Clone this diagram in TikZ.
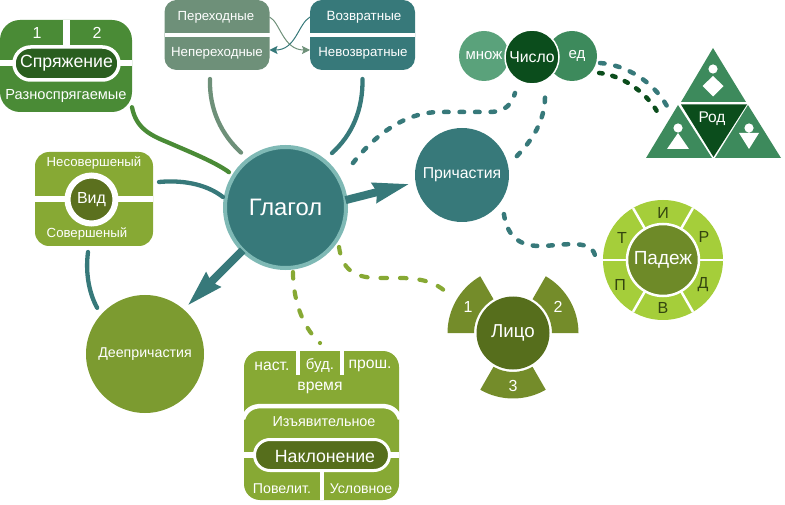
\documentclass[tikz,border=0pt]{standalone}
\usepackage{fontspec}
\setmainfont{Liberation Sans}
\usetikzlibrary{arrows.meta}
\definecolor{cSpr}{HTML}{4A8B36}
\definecolor{cSprD}{HTML}{2A5E1F}
\definecolor{cPer}{HTML}{6E9079}
\definecolor{cTeal}{HTML}{37797A}
\definecolor{cRing}{HTML}{7FB9B5}
\definecolor{cOlive}{HTML}{87A934}
\definecolor{cOliveD}{HTML}{5B701E}
\definecolor{cMno}{HTML}{5AA27B}
\definecolor{cGreen}{HTML}{3D8A5C}
\definecolor{cDark}{HTML}{0B4D1C}
\definecolor{cLime}{HTML}{A5CE3A}
\definecolor{cPadI}{HTML}{6E8A28}
\definecolor{cLit}{HTML}{748C2A}
\definecolor{cLitI}{HTML}{566E1C}
\definecolor{cInk}{HTML}{33450F}
\newcommand\fs[1]{\fontsize{#1}{#1}\selectfont}
\newcommand\ringsector[5]{\fill[#5] ([shift={(#3:#1pt)}]#4.center) arc[start angle=#3,end angle=#3+60,radius=#1pt] -- ([shift={(#3+60:#2pt)}]#4.center) arc[start angle=#3+60,end angle=#3,radius=#2pt] -- cycle;}
\tikzset{
  lab/.style={text=white,inner sep=0pt,outer sep=0pt},
  boxn/.style={rectangle,inner sep=0pt,outer sep=0pt},
  disc/.style={circle,inner sep=0pt,outer sep=0pt,text=white},
  sep/.style={draw=white},
  link/.style={line width=4.3pt,line cap=round},
  dots/.style={line width=4.5pt,line cap=round,dash pattern=on 4.5pt off 11pt},
  olivedots/.style={line width=4.2pt,line cap=round,dash pattern=on 6.5pt off 13pt},
  thin link/.style={line width=1pt,-{Stealth[length=8pt,width=8pt,inset=1.5pt]}},
  big arrow/.style={draw=cTeal,line width=8pt,-{Stealth[length=36pt 0,width=19pt 0,inset=2pt 0]}}
}
\begin{document}
\begin{tikzpicture}[x=1pt,y=-1pt]
\useasboundingbox (0,0) rectangle (785,505);
% Spryazhenie
\node[boxn,fill=cSpr,rounded corners=20pt,minimum width=132pt,minimum height=92pt] (sprbox) at (66,66) {};
\draw[sep,line width=6pt] (sprbox.west |- 0,63.5) -- (sprbox.east |- 0,63.5);
\draw[sep,line width=7pt] (66.5,20) -- (66.5,46);
\node[boxn,fill=cSprD,draw=white,line width=3.5pt,rounded corners=16.5pt,minimum width=105pt,minimum height=33pt,text=white,font=\fs{17.7}] (sprpill) at (66.5,63.5) {Спряжение};
\node[lab,font=\fs{16}] (spr1) at (37,33) {1};
\node[lab,font=\fs{16}] (spr2) at (97,33) {2};
\node[lab,font=\fs{14.6}] (sprr) at (66,96) {Разноспрягаемые};
% Perehodnye
\node[boxn,fill=cPer,rounded corners=12pt,minimum width=105pt,minimum height=70pt] (perbox) at (217,35) {};
\draw[sep,line width=4.5pt] (perbox.west) -- (perbox.east);
\node[lab,font=\fs{13.2}] (per1) at (216,17) {Переходные};
\node[lab,font=\fs{13.3}] (per2) at (217,53) {Непереходные};
\node[boxn,fill=cTeal,rounded corners=12pt,minimum width=105pt,minimum height=70pt] (vozbox) at (362.5,35) {};
\draw[sep,line width=4.5pt] (vozbox.west) -- (vozbox.east);
\node[lab,font=\fs{13.4}] (voz1) at (364,17) {Возвратные};
\node[lab,font=\fs{13.3}] (voz2) at (363,53) {Невозвратные};
% Vid
\node[boxn,fill=cOlive,rounded corners=14pt,minimum width=118pt,minimum height=94pt] (vidbox) at (94,199) {};
\draw[sep,line width=6.5pt] (vidbox.west |- 0,199) -- (vidbox.east |- 0,199);
\node[disc,fill=cOliveD,draw=white,line width=6pt,minimum size=48pt,font=\fs{16}] (vid) at (91.5,199.5) {Вид};
\node[lab,font=\fs{13.2}] (vid1) at (94,163) {Несовершеный};
\node[lab,font=\fs{13.2}] (vid2) at (87,234) {Совершеный};
% main circles
\node[disc,fill=cTeal,draw=cRing,line width=4pt,minimum size=121pt,font=\fs{23.8}] (glagol) at (285.5,207.5) {Глагол};
\node[disc,fill=cTeal,minimum size=94pt,font=\fs{15.8}] (prich) at (462,175) {Причастия};
\node[disc,fill=cOlive!92!black,minimum size=118pt,font=\fs{14.2}] (deep) at (145,354) {Деепричастия};
% Chislo
\node[disc,fill=cMno,minimum size=50pt,font=\fs{15}] (mnozh) at (484,56) {множ};
\node[disc,fill=cGreen,minimum size=50pt] (ed) at (572,56) {};
\node[lab,font=\fs{15}] (edt) at (577,56) {ед};
\node[disc,fill=cDark,draw=white,line width=1.5pt,minimum size=54pt,font=\fs{15.8}] (chislo) at (532,57) {Число};
% Rod
\fill[cGreen] (713,48) -- (746,102) -- (681,102) -- cycle;
\fill[cGreen] (678,105) -- (712,158) -- (646,158) -- cycle;
\fill[cGreen] (748,105) -- (781,158) -- (715,158) -- cycle;
\fill[cDark] (681,104.5) -- (747,104.5) -- (713.5,157) -- cycle;
\fill[white] (713,69) circle[radius=4.6pt] (713,76) -- (723.5,86) -- (713,96.5) -- (702.5,86) -- cycle;
\fill[white] (678,128) circle[radius=4.6pt] (678,133) -- (689,149) -- (667,149) -- cycle;
\fill[white] (749,128) circle[radius=4.6pt] (739,133) -- (759,133) -- (749,149) -- cycle;
\node[lab,font=\fs{15.5}] (rod) at (712,119) {Род};
% Padezh
\node[disc,fill=cLime,minimum size=120pt] (padring) at (663,260) {};
\foreach \a in {0,60,...,300} \draw[sep,line width=2.5pt] (padring.center) -- ++(\a:60pt);
\node[disc,fill=cPadI,draw=white,line width=2.5pt,minimum size=72pt,font=\fs{19}] (padezh) at (663,260) {Падеж};
\node[lab,text=cInk,font=\fs{16}] (pi) at (663,213) {И};
\node[lab,text=cInk,font=\fs{16}] (pr) at (704,237) {Р};
\node[lab,text=cInk,font=\fs{16}] (pd) at (703,285) {Д};
\node[lab,text=cInk,font=\fs{16}] (pv) at (663,308) {В};
\node[lab,text=cInk,font=\fs{16}] (pp) at (620,285) {П};
\node[lab,text=cInk,font=\fs{16}] (pt) at (622,238) {Т};
% Litso
\coordinate (litsoc) at (513,333);
\ringsector{65.5}{39}{0}{litsoc}{cLit}
\ringsector{65.5}{39}{120}{litsoc}{cLit}
\ringsector{65.5}{39}{240}{litsoc}{cLit}
\node[disc,fill=cLitI,minimum size=73pt,font=\fs{18.7}] (litso) at (litsoc) {Лицо};
\node[lab,font=\fs{16}] (l1) at (468,307) {1};
\node[lab,font=\fs{16}] (l2) at (558,307) {2};
\node[lab,font=\fs{16}] (l3) at (513,386) {3};
% Naklonenie
\node[boxn,fill=cOlive,rounded corners=16pt,minimum width=155pt,minimum height=149pt] (naklbox) at (321.5,425.5) {};
\draw[sep,line width=3.5pt] (298,351) -- (298,375);
\draw[sep,line width=3.5pt] (342,351) -- (342,375);
\draw[sep,line width=3.5pt] (322,472) -- (322,500);
\draw[sep,line width=4.5pt] (243,419) .. controls (246,410) and (252,406) .. (262,406) -- (381,406) .. controls (391,406) and (397,410) .. (400,419);
\draw[sep,line width=6pt] (244,455) -- (399,455);
\node[boxn,fill=cLitI,draw=white,line width=3pt,rounded corners=15.5pt,minimum width=135pt,minimum height=31pt] (nakl) at (322,455) {};
\node[lab,font=\fs{17.7}] (naklt) at (325,456) {Наклонение};
\node[lab,font=\fs{15.7}] (n1) at (272,366) {наст.};
\node[lab,font=\fs{15}] (n2) at (320,366) {буд.};
\node[lab,font=\fs{15.7}] (n3) at (370,366) {прош.};
\node[lab,font=\fs{15.7}] (n4) at (320,388) {время};
\node[lab,font=\fs{14.4}] (n5) at (324,422) {Изъявительное};
\node[lab,font=\fs{14.2}] (n6) at (282,489) {Повелит.};
\node[lab,font=\fs{14.1}] (n7) at (361,489) {Условное};
% connectors
\draw[link,draw=cSpr] (sprbox.-32) .. controls (136,128) and (150,135) .. (167,142) .. controls (190,152) and (215,162) .. ([shift={(148:66.7pt)}]glagol.center);
\draw[link,draw=cPer] ([xshift=-7pt,yshift=-9pt]perbox.south) .. controls (209,110) and (222,135) .. ([shift={(129:70.7pt)}]glagol.center);
\draw[link,draw=cTeal] ([yshift=-9pt]vozbox.south) .. controls (363,110) and (352,135) .. ([shift={(49.5:71.6pt)}]glagol.center);
\draw[link,draw=cTeal] ([xshift=6pt,yshift=17pt]vidbox.east) .. controls (180,180) and (205,183) .. ([shift={(170.5:63.4pt)}]glagol.center);
\draw[link,draw=cTeal] ([xshift=-6pt,yshift=-6pt]vidbox.south) .. controls (85,275) and (90,295) .. ([shift={(136:66.5pt)}]deep.center);
\draw[thin link,draw=cPer] ([yshift=18pt]perbox.east) .. controls (280,22) and (283,50) .. ([yshift=-15pt]vozbox.west);
\draw[thin link,draw=cTeal] ([yshift=18pt]vozbox.west) .. controls (298,24) and (296,50) .. ([yshift=-15pt]perbox.east);
\draw[big arrow,shorten >=5.6pt] (glagol.7) -- (prich.189);
\draw[big arrow,shorten >=4.8pt] (glagol.225) -- (deep.49);
\draw[dots,draw=cTeal] ([shift={(33.4:80.8pt)}]glagol.center) .. controls (375,135) and (405,112) .. (440,112) -- (490,112) .. controls (505,112) and (512,104) .. ([shift={(244.7:39.8pt)}]chislo.center);
\draw[dots,draw=cTeal] ([shift={(19:58pt)}]prich.center) .. controls (537,135) and (547,115) .. ([shift={(293:32.7pt)}]chislo.center);
\draw[dots,draw=cTeal] ([shift={(-43:57.3pt)}]prich.center) .. controls (507,235) and (518,246) .. (540,246) .. controls (560,246) and (590,238) .. ([shift={(175.8:68.2pt)}]padezh.center);
\draw[dots,draw=cTeal] ([shift={(-14:28.9pt)}]ed.center) .. controls (625,65) and (652,80) .. ([shift={(164:46.8pt)}]rod.center);
\draw[dots,draw=cDark,dash pattern=on 3.5pt off 10pt] ([shift={(-32:32pt)}]ed.center) .. controls (620,75) and (645,90) .. ([shift={(173.7:54.3pt)}]rod.center);
\draw[olivedots,draw=cOlive] ([shift={(-83.4:65pt)}]glagol.center) .. controls (293,295) and (300,325) .. ([xshift=-1.5pt,yshift=8pt]naklbox.north);
\draw[olivedots,draw=cOlive] ([shift={(-36.4:66.5pt)}]glagol.center) .. controls (342,270) and (355,277) .. (375,278) -- (403,278) .. controls (425,279) and (435,283) .. ([shift={(148.3:80pt)}]litso.center);
\end{tikzpicture}
\end{document}
